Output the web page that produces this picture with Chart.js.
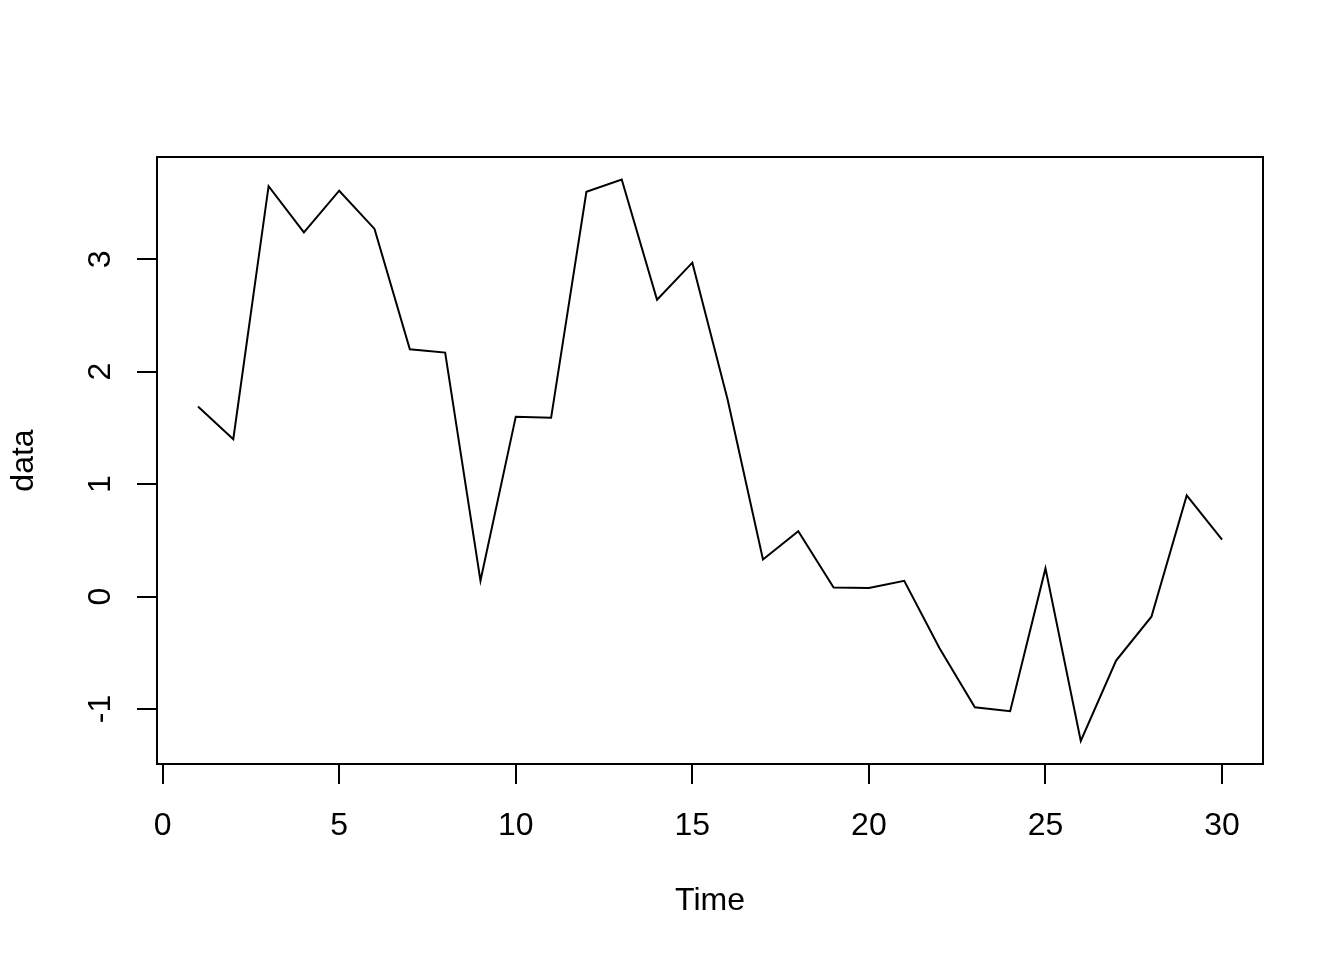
<!DOCTYPE html>
<html>
<head>
<meta charset="utf-8">
<script src="https://cdn.jsdelivr.net/npm/chart.js@4"></script>
<style>
  html, body { margin: 0; padding: 0; background: #fff; }
  canvas { display: block; }
</style>
</head>
<body>
<canvas id="tsChart" width="1344" height="960"></canvas>
<script>
// series
const timeIdx = [1, 2, 3, 4, 5, 6, 7, 8, 9, 10, 11, 12, 13, 14, 15,
                 16, 17, 18, 19, 20, 21, 22, 23, 24, 25, 26, 27, 28, 29, 30];
const dataVals = [1.69, 1.40, 3.65, 3.24, 3.61, 3.27, 2.20, 2.17, 0.14, 1.60,
                  1.59, 3.60, 3.71, 2.64, 2.97, 1.75, 0.33, 0.58, 0.08, 0.075,
                  0.14, -0.46, -0.985, -1.02, 0.25, -1.285, -0.57, -0.18, 0.90, 0.505];
const xTicks = [0, 5, 10, 15, 20, 25, 30];
const yTicks = [-1, 0, 1, 2, 3];
const xLabel = "Time";
const yLabel = "data";

// R pads the data range by 4% on each side
const xMin = -0.16, xMax = 31.16;
const yMin = -1.49, yMax = 3.91;

const font = { family: "'Liberation Sans', Arial, Helvetica, sans-serif", size: 32, lineHeight: 1.2 };

Chart.defaults.color = "#000";

const boxPlugin = {
    id: "plotBox",
    afterDraw(chart) {
        const a = chart.chartArea;
        const ctx = chart.ctx;
        ctx.save();
        ctx.strokeStyle = "#000";
        ctx.lineWidth = 2;
        ctx.strokeRect(a.left, a.top, a.right - a.left, a.bottom - a.top);
        ctx.restore();
    }
};

new Chart(document.getElementById("tsChart"), {
    type: "line",
    data: {
        datasets: [{
            data: timeIdx.map((t, i) => ({ x: t, y: dataVals[i] })),
            borderColor: "#000",
            borderWidth: 2,
            pointRadius: 0,
            tension: 0,
            fill: false
        }]
    },
    options: {
        responsive: false,
        animation: false,
        devicePixelRatio: 1,
        layout: { padding: { left: 0, top: 157, right: 81, bottom: 0 } },
        plugins: { legend: { display: false }, tooltip: { enabled: false } },
        scales: {
            x: {
                type: "linear",
                min: xMin,
                max: xMax,
                afterBuildTicks: s => { s.ticks = xTicks.map(v => ({ value: v })); },
                afterFit: s => { s.height = 196; },
                grid: { drawOnChartArea: false, drawTicks: true, tickLength: 20, color: "#000", lineWidth: 2 },
                border: { display: false },
                ticks: { font: font, padding: 23, maxRotation: 0, autoSkip: false },
                title: { display: true, text: xLabel, font: font, padding: { top: 0, bottom: 40 } }
            },
            y: {
                type: "linear",
                min: yMin,
                max: yMax,
                afterBuildTicks: s => { s.ticks = yTicks.map(v => ({ value: v })); },
                afterFit: s => { s.width = 157; },
                grid: { drawOnChartArea: false, drawTicks: true, tickLength: 20, color: "#000", lineWidth: 2 },
                border: { display: false },
                ticks: { font: font, padding: 22, minRotation: 90, maxRotation: 90, crossAlign: "center", autoSkip: false },
                title: { display: true, text: yLabel, font: font, padding: { top: 5, bottom: 0 } }
            }
        }
    },
    plugins: [boxPlugin]
});
</script>
</body>
</html>
